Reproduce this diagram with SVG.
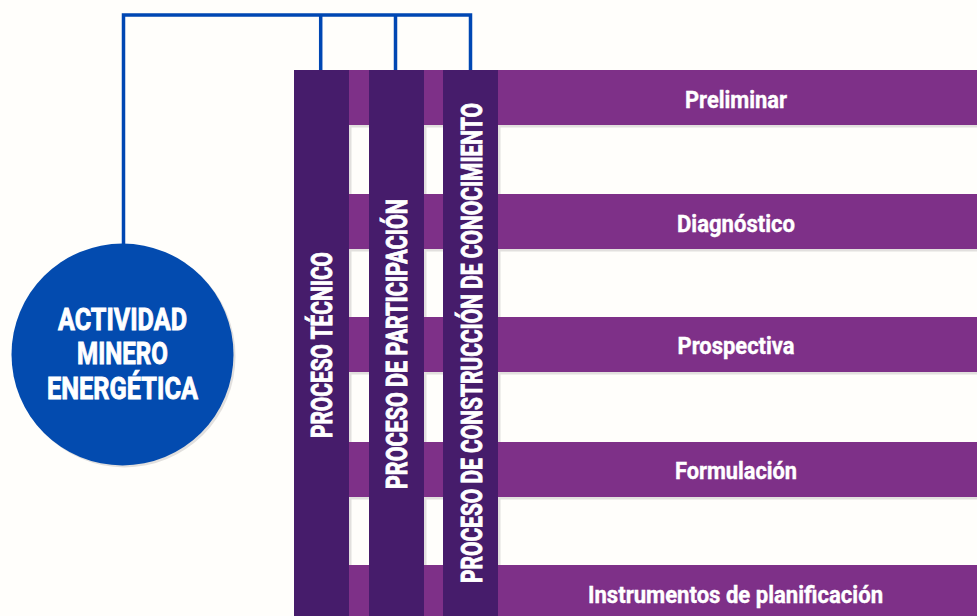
<svg xmlns="http://www.w3.org/2000/svg" width="977" height="616" viewBox="0 0 977 616">
<style>
.band{fill:#7E3088}
.shadow{fill:#E2E0DE}
.col{fill:#461C6B}
.lbl{font-family:Roboto,"Liberation Sans",sans-serif;font-weight:bold;fill:#FFFFFF;text-anchor:middle}
.h{font-size:24px;stroke:#FFFFFF;stroke-width:0.4}
.v{font-size:30px;stroke:#FFFFFF;stroke-width:0.9}
.c{font-size:31px;stroke:#FFFFFF;stroke-width:0.9}
.conn{fill:none;stroke:#0047B3;stroke-width:3.5}
</style>
<rect width="977" height="616" fill="#FFFEFB"/>
<g id="connectors">
<path class="conn" d="M123.5,244 V15 H470.5 V70"/>
<path class="conn" d="M320.7,15 V70"/>
<path class="conn" d="M395.5,15 V70"/>
</g>
<g id="shadows">
<rect class="shadow" x="294" y="125" width="683" height="2.5"/>
<rect class="shadow" x="294" y="249" width="683" height="2.5"/>
<rect class="shadow" x="294" y="372" width="683" height="2.5"/>
<rect class="shadow" x="294" y="497" width="683" height="2.5"/>
<rect class="shadow" x="349" y="70" width="2.5" height="546"/>
<rect class="shadow" x="424" y="70" width="2.5" height="546"/>
<rect class="shadow" x="498" y="70" width="2.5" height="546"/>
</g>
<g id="bands">
<g id="band-preliminar">
<rect class="band" x="294" y="70" width="683" height="55"/>
<text class="lbl h" x="736" y="108" textLength="102" lengthAdjust="spacingAndGlyphs">Preliminar</text>
</g>
<g id="band-diagnostico">
<rect class="band" x="294" y="194" width="683" height="55"/>
<text class="lbl h" x="736" y="231.5" textLength="118" lengthAdjust="spacingAndGlyphs">Diagnóstico</text>
</g>
<g id="band-prospectiva">
<rect class="band" x="294" y="317" width="683" height="55"/>
<text class="lbl h" x="736" y="354" textLength="117" lengthAdjust="spacingAndGlyphs">Prospectiva</text>
</g>
<g id="band-formulacion">
<rect class="band" x="294" y="442" width="683" height="55"/>
<text class="lbl h" x="736" y="478.5" textLength="122" lengthAdjust="spacingAndGlyphs">Formulación</text>
</g>
<g id="band-instrumentos">
<rect class="band" x="294" y="565" width="683" height="51"/>
<text class="lbl h" x="735.5" y="603" textLength="295" lengthAdjust="spacingAndGlyphs">Instrumentos de planificación</text>
</g>
</g>
<g id="col-tecnico">
<rect class="col" x="294" y="70" width="55" height="546"/>
<text class="lbl v" transform="translate(332,345) rotate(-90)" textLength="186" lengthAdjust="spacingAndGlyphs">PROCESO TÉCNICO</text>
</g>
<g id="col-participacion">
<rect class="col" x="369" y="70" width="55" height="546"/>
<text class="lbl v" transform="translate(407,344) rotate(-90)" textLength="290" lengthAdjust="spacingAndGlyphs">PROCESO DE PARTICIPACIÓN</text>
</g>
<g id="col-conocimiento">
<rect class="col" x="443" y="70" width="55" height="546"/>
<text class="lbl v" transform="translate(481.5,343) rotate(-90)" textLength="480" lengthAdjust="spacingAndGlyphs">PROCESO DE CONSTRUCCIÓN DE CONOCIMIENTO</text>
</g>
<g id="actividad">
<circle cx="124.5" cy="356.5" r="111" fill="#E2E0DE"/>
<circle cx="122.5" cy="354.5" r="111" fill="#034BAF"/>
<text class="lbl c" x="122.5" y="330" textLength="129" lengthAdjust="spacingAndGlyphs">ACTIVIDAD</text>
<text class="lbl c" x="122.5" y="364" textLength="91" lengthAdjust="spacingAndGlyphs">MINERO</text>
<text class="lbl c" x="122.5" y="399" textLength="151" lengthAdjust="spacingAndGlyphs">ENERGÉTICA</text>
</g>
</svg>
